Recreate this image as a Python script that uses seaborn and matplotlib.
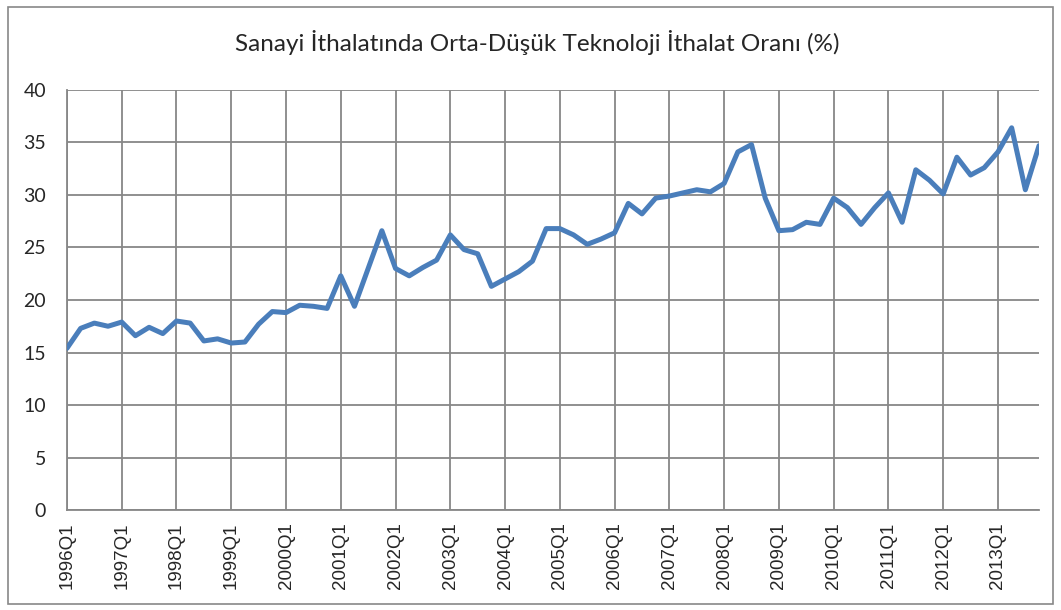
import matplotlib
matplotlib.use('Agg')
import matplotlib.pyplot as plt
import seaborn as sns
import pandas as pd

years = list(range(1996, 2014))
quarters = [f'{y}Q{q}' for y in years for q in range(1, 5)]
oran = [
    15.4, 17.3, 17.8, 17.5,
    17.9, 16.6, 17.4, 16.8,
    18.0, 17.8, 16.1, 16.3,
    15.9, 16.0, 17.7, 18.9,
    18.8, 19.5, 19.4, 19.2,
    22.3, 19.4, 23.0, 26.6,
    23.0, 22.3, 23.1, 23.8,
    26.2, 24.8, 24.4, 21.3,
    22.0, 22.7, 23.7, 26.8,
    26.8, 26.2, 25.3, 25.8,
    26.4, 29.2, 28.2, 29.7,
    29.9, 30.2, 30.5, 30.3,
    31.1, 34.1, 34.8, 29.7,
    26.6, 26.7, 27.4, 27.2,
    29.7, 28.8, 27.2, 28.8,
    30.2, 27.4, 32.4, 31.4,
    30.1, 33.6, 31.9, 32.6,
    34.1, 36.4, 30.5, 34.7,
]
tick_labels = [f'{y}Q1' for y in years]

df = pd.DataFrame({'donem': quarters, 'oran': oran})
df['i'] = range(len(df))

sns.set_style('white')
plt.rcParams['font.family'] = ['Lato', 'DejaVu Sans']

fig = plt.figure(figsize=(10.61, 6.1), dpi=100)
ax = fig.add_axes([0.0631, 0.1639, 0.9162, 0.6886])

grid_c = '#878787'
sns.lineplot(data=df, x='i', y='oran', ax=ax, color='#4a7ebb', linewidth=3.6, zorder=3)

ax.set_xlim(0, len(quarters) - 1)
ax.set_ylim(0, 40)
ax.set_yticks(range(0, 41, 5))
ax.set_xticks(range(0, len(quarters), 4))
ax.set_xticklabels(tick_labels, rotation=90)
for lab in ax.get_xticklabels():
    lab.set_fontfamily('Liberation Sans')
    lab.set_fontsize(13.5)
ax.tick_params(axis='y', labelsize=14, length=5, color=grid_c, width=1, pad=10)
ax.tick_params(axis='x', length=5, color=grid_c, width=1, pad=4)
ax.set_xlabel('')
ax.set_ylabel('')
ax.grid(True, color=grid_c, linewidth=1.3)
ax.set_axisbelow(True)
for s in ['top', 'right']:
    ax.spines[s].set_visible(False)
for s in ['left', 'bottom']:
    ax.spines[s].set_color(grid_c)
    ax.spines[s].set_linewidth(1.3)

fig.text(0.506, 0.93, 'Sanayi İthalatında Orta-Düşük Teknoloji İthalat Oranı (%)',
         ha='center', va='center', fontsize=17.5)

border = plt.Rectangle((0.008, 0.01), 0.984, 0.978, transform=fig.transFigure,
                       fill=False, edgecolor='#888888', linewidth=1.2)
fig.patches.append(border)

fig.savefig('out.png', dpi=100)
